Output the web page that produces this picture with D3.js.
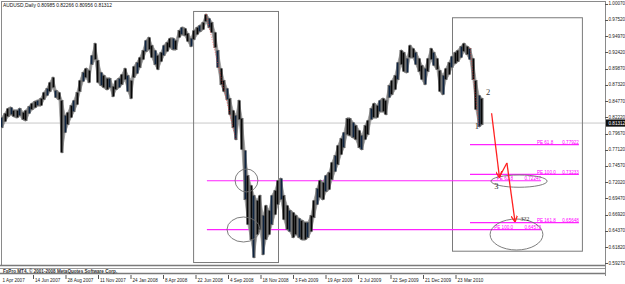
<!DOCTYPE html>
<html>
<head>
<meta charset="utf-8">
<script src="https://cdn.jsdelivr.net/npm/d3@7/dist/d3.min.js"></script>
<style>
  html, body { margin: 0; padding: 0; background: #fff; }
  svg { display: block; font-family: "Liberation Sans", Arial, sans-serif; }
</style>
</head>
<body>
<svg id="chart" width="625" height="284"></svg>
<script>
// AUDUSD daily, read off the picture and grouped roughly by week
const titleText = 'AUDUSD,Daily  0.80985 0.82266 0.80956 0.81312';
const lastPrice = 0.81312;
const copyright = 'FxPro MT4, © 2001-2008 MetaQuotes Software Corp.';

const weekHigh = [
  0.8227, 0.8290, 0.8368, 0.8384, 0.8337, 0.8337, 0.8368, 0.8305, 0.8337, 0.8400,
  0.8447, 0.8478, 0.8494, 0.8525, 0.8620, 0.8683, 0.8777, 0.8856, 0.8651, 0.8620,
  0.8494, 0.8258, 0.8305, 0.8415, 0.8494, 0.8620, 0.8808, 0.8934, 0.8997, 0.8966,
  0.9201, 0.9390, 0.9123, 0.8934, 0.8887, 0.8840, 0.8840, 0.8714, 0.8808, 0.8840,
  0.8903, 0.8997, 0.8887, 0.8808, 0.9028, 0.9091, 0.9170, 0.9280, 0.9437, 0.9484,
  0.9359, 0.9280, 0.9201, 0.9249, 0.9359, 0.9406, 0.9469, 0.9469, 0.9437, 0.9594,
  0.9641, 0.9626, 0.9547, 0.9469, 0.9594, 0.9641, 0.9673, 0.9720, 0.9846, 0.9783,
  0.9720, 0.9563, 0.9280, 0.8997, 0.8808, 0.8683, 0.8525, 0.8337, 0.8258, 0.8494,
  0.8211, 0.7708, 0.7315, 0.7158, 0.7001, 0.6922, 0.7001, 0.6686, 0.6843, 0.6765,
  0.7001, 0.7079, 0.7236, 0.7268, 0.7001, 0.6843, 0.6765, 0.6733, 0.6686, 0.6639,
  0.6607, 0.6576, 0.6576, 0.6686, 0.6922, 0.7111, 0.7236, 0.7205, 0.7315, 0.7362,
  0.7519, 0.7629, 0.7787, 0.7897, 0.7991, 0.8211, 0.8211, 0.8148, 0.8101, 0.8022,
  0.7944, 0.8101, 0.8180, 0.8368, 0.8447, 0.8415, 0.8494, 0.8525, 0.8494, 0.8730,
  0.8808, 0.8887, 0.9091, 0.9280, 0.9249, 0.9154, 0.9359, 0.9311, 0.9249, 0.9154,
  0.9044, 0.8997, 0.9154, 0.9311, 0.9249, 0.9154, 0.8966, 0.8887, 0.8997, 0.9091,
  0.9186, 0.9249, 0.9280, 0.9343, 0.9390, 0.9343, 0.9311, 0.9154, 0.8808, 0.8573,
  0.8525
];
const weekLow = [
  0.8054, 0.8148, 0.8227, 0.8258, 0.8227, 0.8211, 0.8242, 0.8180, 0.8164, 0.8274,
  0.8337, 0.8368, 0.8400, 0.8400, 0.8494, 0.8557, 0.8620, 0.8683, 0.8525, 0.8494,
  0.7661, 0.7975, 0.8101, 0.8211, 0.8305, 0.8415, 0.8620, 0.8777, 0.8840, 0.8761,
  0.9044, 0.9123, 0.8761, 0.8714, 0.8683, 0.8651, 0.8683, 0.8541, 0.8651, 0.8683,
  0.8730, 0.8808, 0.8620, 0.8510, 0.8840, 0.8903, 0.8997, 0.9123, 0.9249, 0.9280,
  0.9154, 0.9044, 0.8966, 0.9091, 0.9186, 0.9249, 0.9311, 0.9280, 0.9280, 0.9469,
  0.9516, 0.9500, 0.9406, 0.9327, 0.9437, 0.9516, 0.9563, 0.9594, 0.9720, 0.9626,
  0.9547, 0.9311, 0.8997, 0.8730, 0.8620, 0.8494, 0.8258, 0.8054, 0.7865, 0.8180,
  0.7708, 0.6922, 0.6529, 0.6293, 0.6010, 0.6372, 0.6450, 0.6057, 0.6293, 0.6372,
  0.6529, 0.6686, 0.6843, 0.6922, 0.6607, 0.6450, 0.6419, 0.6325, 0.6372, 0.6325,
  0.6293, 0.6293, 0.6325, 0.6419, 0.6639, 0.6843, 0.6953, 0.6922, 0.7048, 0.7079,
  0.7236, 0.7362, 0.7472, 0.7629, 0.7739, 0.7944, 0.7928, 0.7897, 0.7865, 0.7739,
  0.7708, 0.7865, 0.7944, 0.8180, 0.8211, 0.8211, 0.8305, 0.8305, 0.8258, 0.8525,
  0.8573, 0.8651, 0.8808, 0.9044, 0.8934, 0.8918, 0.9154, 0.9154, 0.9044, 0.8934,
  0.8808, 0.8730, 0.8934, 0.9123, 0.9028, 0.8966, 0.8620, 0.8573, 0.8808, 0.8887,
  0.8997, 0.9060, 0.9091, 0.9154, 0.9249, 0.9201, 0.9123, 0.8808, 0.8337, 0.8069,
  0.8101
];

const priceTicks = [0.59270, 0.61820, 0.64370, 0.66920, 0.69470, 0.72020, 0.74570, 0.77120,
  0.79670, 0.82220, 0.84770, 0.87320, 0.89870, 0.92420, 0.94970, 0.97520, 1.00070];

const dateLabels = ['1 Apr 2007', '14 Jun 2007', '28 Aug 2007', '11 Nov 2007', '24 Jan 2008',
  '8 Apr 2008', '22 Jun 2008', '4 Sep 2008', '18 Nov 2008', '3 Feb 2009', '19 Apr 2009',
  '2 Jul 2009', '22 Sep 2009', '21 Dec 2009', '23 Mar 2010'];

// drawn objects (x in week index, y in price)
const boxes = [
  { x0: 63.7, x1: 92.0, top: 0.9893, bottom: 0.5947 },
  { x0: 150.0, x1: 193.3, top: 0.9794, bottom: 0.6125 }
];
const fibOld = [ { name: 'PE 61.8', price: 0.72247 }, { name: 'PE 100.0', price: 0.64573 } ];
const fibOldSpan = [68.3, 179.7];
const fibNew = [ { name: 'PE 61.8', price: 0.77922 }, { name: 'PE 100.0', price: 0.73233 }, { name: 'PE 161.8', price: 0.65648 } ];
const fibNewSpan = [156.0, 192.3];
const ellipses = [
  { x0: 77.7, x1: 85.3, top: 0.7409, bottom: 0.7048 },
  { x0: 75.0, x1: 86.0, top: 0.6655, bottom: 0.6262 },
  { x0: 163.0, x1: 181.7, top: 0.7315, bottom: 0.7122 },
  { x0: 162.7, x1: 180.3, top: 0.6623, bottom: 0.6136 }
];
const arrowPath = [ [163.2, 0.8285], [165.8, 0.7283], [168.3, 0.7504], [171.0, 0.6584] ];
const zigzags = [ [[68, 0.9846], [78, 0.7865]], [[156, 0.9311], [159, 0.8069]] ];
const waveLabels = [
  { text: '1', x: 158.3, price: 0.8088, size: 8.5 },
  { text: '2', x: 162.0, price: 0.8620, size: 8.5 },
  { text: '3', x: 164.8, price: 0.7142, size: 8.5 },
  { text: '3?2', x: 174.3, price: 0.6630, size: 6.2 }
];

const svg = d3.select('#chart');
const W = 625, axisX = 605;

const x = d3.scaleLinear().domain([0, 201]).range([2, axisX]);
const y = d3.scaleLinear().domain([0.59270, 1.00070]).range([263.3, 3.7]);

const defs = svg.append('defs');
defs.append('marker')
  .attr('id', 'head').attr('viewBox', '0 0 10 10').attr('refX', 9).attr('refY', 5)
  .attr('markerWidth', 5).attr('markerHeight', 5).attr('orient', 'auto')
  .append('path').attr('d', 'M0,0 L10,5 L0,10').attr('fill', 'none')
  .attr('stroke', '#ff2020').attr('stroke-width', 2);
defs.append('clipPath').attr('id', 'plot')
  .append('rect').attr('x', 1).attr('y', 1).attr('width', axisX - 1).attr('height', 264);

// frame
svg.append('line').attr('x1', 1.5).attr('x2', 1.5).attr('y1', 1).attr('y2', 265)
  .attr('stroke', '#8a8a8a');
svg.append('line').attr('x1', 1).attr('x2', axisX).attr('y1', 1.5).attr('y2', 1.5)
  .attr('stroke', '#8a8a8a');
svg.append('line').attr('x1', axisX + 0.5).attr('x2', axisX + 0.5).attr('y1', 1).attr('y2', 276)
  .attr('stroke', '#8a8a8a');

const plot = svg.append('g').attr('clip-path', 'url(#plot)');

// bid line
plot.append('line').attr('x1', 1).attr('x2', axisX).attr('y1', y(lastPrice)).attr('y2', y(lastPrice))
  .attr('stroke', '#c8c8c8').attr('stroke-width', 1);

// boxes
plot.selectAll('rect.box').data(boxes).join('rect').attr('class', 'box')
  .attr('x', d => x(d.x0) + 0.5).attr('y', d => y(d.top) + 0.5)
  .attr('width', d => x(d.x1) - x(d.x0)).attr('height', d => y(d.bottom) - y(d.top))
  .attr('fill', 'none').attr('stroke', '#7a7a7a').attr('stroke-width', 1);

// fibo expansion levels
function drawFib(levels, span, nameX, nameAnchor) {
  const g = plot.append('g');
  g.selectAll('line').data(levels).join('line')
    .attr('x1', x(span[0])).attr('x2', x(span[1]))
    .attr('y1', d => y(d.price)).attr('y2', d => y(d.price))
    .attr('stroke', '#ff22ff').attr('stroke-width', 1.2);
  g.selectAll('text.v').data(levels).join('text').attr('class', 'v')
    .attr('x', x(span[1])).attr('y', d => y(d.price) - 0.9)
    .attr('text-anchor', 'end').attr('font-size', 4.6).attr('fill', '#ff00ff')
    .text(d => d.price.toFixed(5));
  g.selectAll('text.n').data(levels).join('text').attr('class', 'n')
    .attr('x', x(span[1]) - nameX).attr('y', d => y(d.price) - 0.9)
    .attr('text-anchor', nameAnchor).attr('font-size', 4.6).attr('fill', '#ff00ff')
    .text(d => d.name);
}
drawFib(fibOld, fibOldSpan, 28, 'end');
drawFib(fibNew, fibNewSpan, 42, 'start');

// price bars: grey band for the range, dark sticks on top
const idx = d3.range(weekHigh.length);
const band = d3.area()
  .x(i => x(i))
  .y0(i => y(weekLow[i]) + 0.3)
  .y1(i => y(weekHigh[i]) - 0.3);
plot.append('path').datum(idx).attr('d', band)
  .attr('fill', '#8e8e8e').attr('stroke', '#9a9a9a').attr('stroke-width', 0.8);
plot.append('g').selectAll('line').data(idx).join('line')
  .attr('x1', i => x(i)).attr('x2', i => x(i))
  .attr('y1', i => y(weekHigh[i])).attr('y2', i => y(weekLow[i]))
  .attr('stroke', '#6a6a6a').attr('stroke-width', 3);
plot.append('g').selectAll('line').data(idx).join('line')
  .attr('x1', i => x(i) + (i % 2 ? 0.5 : -0.5)).attr('x2', i => x(i) + (i % 2 ? 0.5 : -0.5))
  .attr('y1', i => y(weekHigh[i]) + 0.8).attr('y2', i => y(weekLow[i]) - 0.8)
  .attr('stroke', i => (i % 3 === 0 ? '#0d2340' : '#060606')).attr('stroke-width', 1.7);

// zigzag dots
const line = d3.line().x(d => x(d[0])).y(d => y(d[1]));
plot.selectAll('path.zz').data(zigzags).join('path').attr('class', 'zz')
  .attr('d', line).attr('fill', 'none').attr('stroke', '#ff3030')
  .attr('stroke-width', 0.8).attr('stroke-dasharray', '1,1.6').attr('opacity', 0.75);

// ellipses
plot.selectAll('ellipse').data(ellipses).join('ellipse')
  .attr('cx', d => (x(d.x0) + x(d.x1)) / 2).attr('cy', d => (y(d.top) + y(d.bottom)) / 2)
  .attr('rx', d => (x(d.x1) - x(d.x0)) / 2).attr('ry', d => (y(d.bottom) - y(d.top)) / 2)
  .attr('fill', 'none').attr('stroke', '#6e6e6e').attr('stroke-width', 0.9);

// red projection arrows
const segs = d3.pairs(arrowPath);
plot.selectAll('line.arrow').data(segs).join('line').attr('class', 'arrow')
  .attr('x1', d => x(d[0][0])).attr('y1', d => y(d[0][1]))
  .attr('x2', d => x(d[1][0])).attr('y2', d => y(d[1][1]))
  .attr('stroke', '#ff2020').attr('stroke-width', 1.3)
  .attr('marker-end', (d, i) => (i === 1 ? null : 'url(#head)'));

// wave counts
plot.selectAll('text.wave').data(waveLabels).join('text').attr('class', 'wave')
  .attr('x', d => x(d.x)).attr('y', d => y(d.price))
  .attr('text-anchor', 'middle').attr('dominant-baseline', 'central')
  .attr('font-family', '"Liberation Serif", serif').attr('font-size', d => d.size)
  .attr('fill', '#333').text(d => d.text);

// title
svg.append('text').attr('x', 3).attr('y', 7).attr('font-size', 4.9).attr('fill', '#111')
  .text(titleText);

// price axis
const yAxis = svg.append('g');
yAxis.selectAll('line').data(priceTicks).join('line')
  .attr('x1', axisX).attr('x2', axisX + 3)
  .attr('y1', d => Math.round(y(d)) + 0.5).attr('y2', d => Math.round(y(d)) + 0.5)
  .attr('stroke', '#555');
yAxis.selectAll('text').data(priceTicks).join('text')
  .attr('x', axisX + 3.5).attr('y', d => y(d)).attr('dominant-baseline', 'central')
  .attr('font-size', 4.6).attr('fill', '#222').text(d => d.toFixed(5));

// current price tag
svg.append('rect').attr('x', axisX + 1).attr('y', y(lastPrice) - 3.6)
  .attr('width', W - axisX - 1).attr('height', 7.2).attr('fill', '#111');
svg.append('text').attr('x', axisX + 3.5).attr('y', y(lastPrice)).attr('dominant-baseline', 'central')
  .attr('font-size', 4.6).attr('fill', '#fff').text(lastPrice.toFixed(5));

// indicator strip
svg.append('line').attr('x1', 0).attr('x2', axisX).attr('y1', 265.5).attr('y2', 265.5)
  .attr('stroke', '#7a7a7a').attr('stroke-width', 1.6);
svg.append('line').attr('x1', 0).attr('x2', axisX).attr('y1', 268.5).attr('y2', 268.5)
  .attr('stroke', '#9a9a9a').attr('stroke-width', 1);
svg.append('line').attr('x1', 0).attr('x2', axisX).attr('y1', 273.5).attr('y2', 273.5)
  .attr('stroke', '#7a7a7a').attr('stroke-width', 1.4);
svg.append('text').attr('x', 3).attr('y', 272.6).attr('font-size', 4.6).attr('font-weight', 'bold')
  .attr('fill', '#333').text(copyright);

// time axis (labels every ~10.8 weeks of bars)
const labelStep = 32.5 / 3;
const timeAxis = svg.append('g');
dateLabels.forEach((lab, i) => {
  const px = x(i * labelStep - 0.5);
  if (i > 0) {
    timeAxis.append('line').attr('x1', px + 0.5).attr('x2', px + 0.5).attr('y1', 275).attr('y2', 279)
      .attr('stroke', '#555');
  }
  timeAxis.append('text').attr('x', px + 2).attr('y', 281.5)
    .attr('font-size', 4.6).attr('fill', '#222').text(lab);
});
</script>
</body>
</html>
